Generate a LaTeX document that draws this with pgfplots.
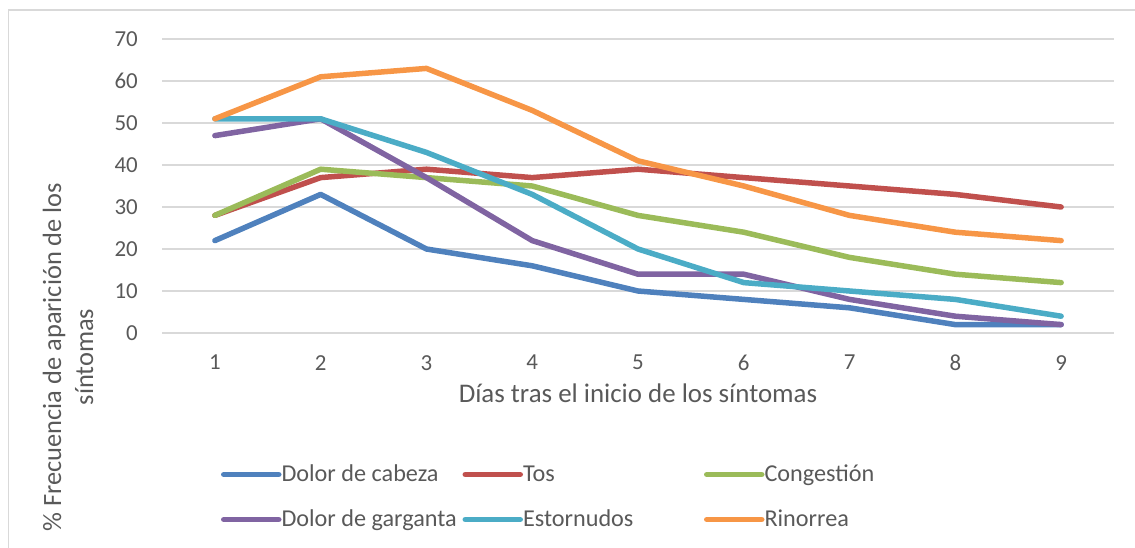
\documentclass[border=0pt]{standalone}
\usepackage{fontspec}
\setmainfont{Carlito}
\usepackage{pgfplots}
\pgfplotsset{compat=1.18}
\definecolor{txt}{HTML}{595959}
\definecolor{gridc}{HTML}{D9D9D9}
\definecolor{c1}{HTML}{4F81BD}
\definecolor{c2}{HTML}{C0504D}
\definecolor{c3}{HTML}{9BBB59}
\definecolor{c4}{HTML}{8064A2}
\definecolor{c5}{HTML}{4BACC6}
\definecolor{c6}{HTML}{F79646}
\newcommand\ls{\rule[-8.5bp]{0pt}{28.5bp}}
\begin{document}
\begin{tikzpicture}
\useasboundingbox (0,0) rectangle (1135bp,-548bp);
\draw[gridc, line width=1.3bp] (8.3bp,-548bp) -- (8.3bp,-10bp) -- (1135bp,-10bp);
\begin{axis}[
  at={(162bp,-333bp)}, anchor=south west,
  scale only axis, width=952bp, height=294bp,
  xmin=0.5, xmax=9.5, ymin=0, ymax=70,
  xtick={1,2,3,4,5,6,7,8,9}, ytick={0,10,20,30,40,50,60,70},
  axis line style={draw=none},
  major tick length=0pt,
  ymajorgrids, grid style={gridc, line width=1.3bp},
  /pgf/number format/assume math mode=true,
  tick label style={font=\fontsize{23}{27}\selectfont, text=txt},
  yticklabel style={anchor=east, inner sep=0pt, xshift=-24bp},
  xticklabel style={anchor=north, inner sep=0pt, yshift=-22bp},
  xlabel={Días tras el inicio de los síntomas},
  xlabel style={at={(axis description cs:0.5,0)}, anchor=base, yshift=-69bp, inner sep=0pt, font=\fontsize{27}{32}\selectfont, text=txt},
  ylabel={\% Frecuencia de aparición de los\\síntomas},
  ylabel style={at={(axis description cs:-0.0987,-0.0816)}, anchor=center, align=center, font=\fontsize{26.5}{32}\selectfont, text=txt},
  every axis plot/.append style={line width=5.5bp, line join=round, line cap=round, no markers},
  legend columns=3,
  legend cell align=left,
  legend style={at={(axis description cs:0.0620,-0.43626)}, anchor=north west, draw=none, fill=none, inner sep=0pt, outer sep=0pt, row sep=23.5bp, column sep=0pt, nodes={inner sep=0pt}, font=\fontsize{24.3}{29}\selectfont, text=txt},
  legend image code/.code={\draw[#1, line cap=round] (0bp,-2.5bp) -- (55bp,-2.5bp); \path (53bp,-2.5bp);},
]
\addplot[c1] coordinates {(1,22) (2,33) (3,20) (4,16) (5,10) (6,8) (7,6) (8,2) (9,2)};
\addlegendentry{\makebox[181bp][l]{\ls Dolor de cabeza}}
\addplot[c2] coordinates {(1,28) (2,37) (3,39) (4,37) (5,39) (6,37) (7,35) (8,33) (9,30)};
\addlegendentry{\makebox[181bp][l]{\ls Tos}}
\addplot[c3] coordinates {(1,28) (2,39) (3,37) (4,35) (5,28) (6,24) (7,18) (8,14) (9,12)};
\addlegendentry{\ls Congestión}
\addplot[c4] coordinates {(1,47) (2,51) (3,37) (4,22) (5,14) (6,14) (7,8) (8,4) (9,2)};
\addlegendentry{\makebox[181bp][l]{\ls Dolor de garganta}}
\addplot[c5] coordinates {(1,51) (2,51) (3,43) (4,33) (5,20) (6,12) (7,10) (8,8) (9,4)};
\addlegendentry{\makebox[181bp][l]{\ls Estornudos}}
\addplot[c6] coordinates {(1,51) (2,61) (3,63) (4,53) (5,41) (6,35) (7,28) (8,24) (9,22)};
\addlegendentry{\ls Rinorrea}
\end{axis}
\end{tikzpicture}
\end{document}
